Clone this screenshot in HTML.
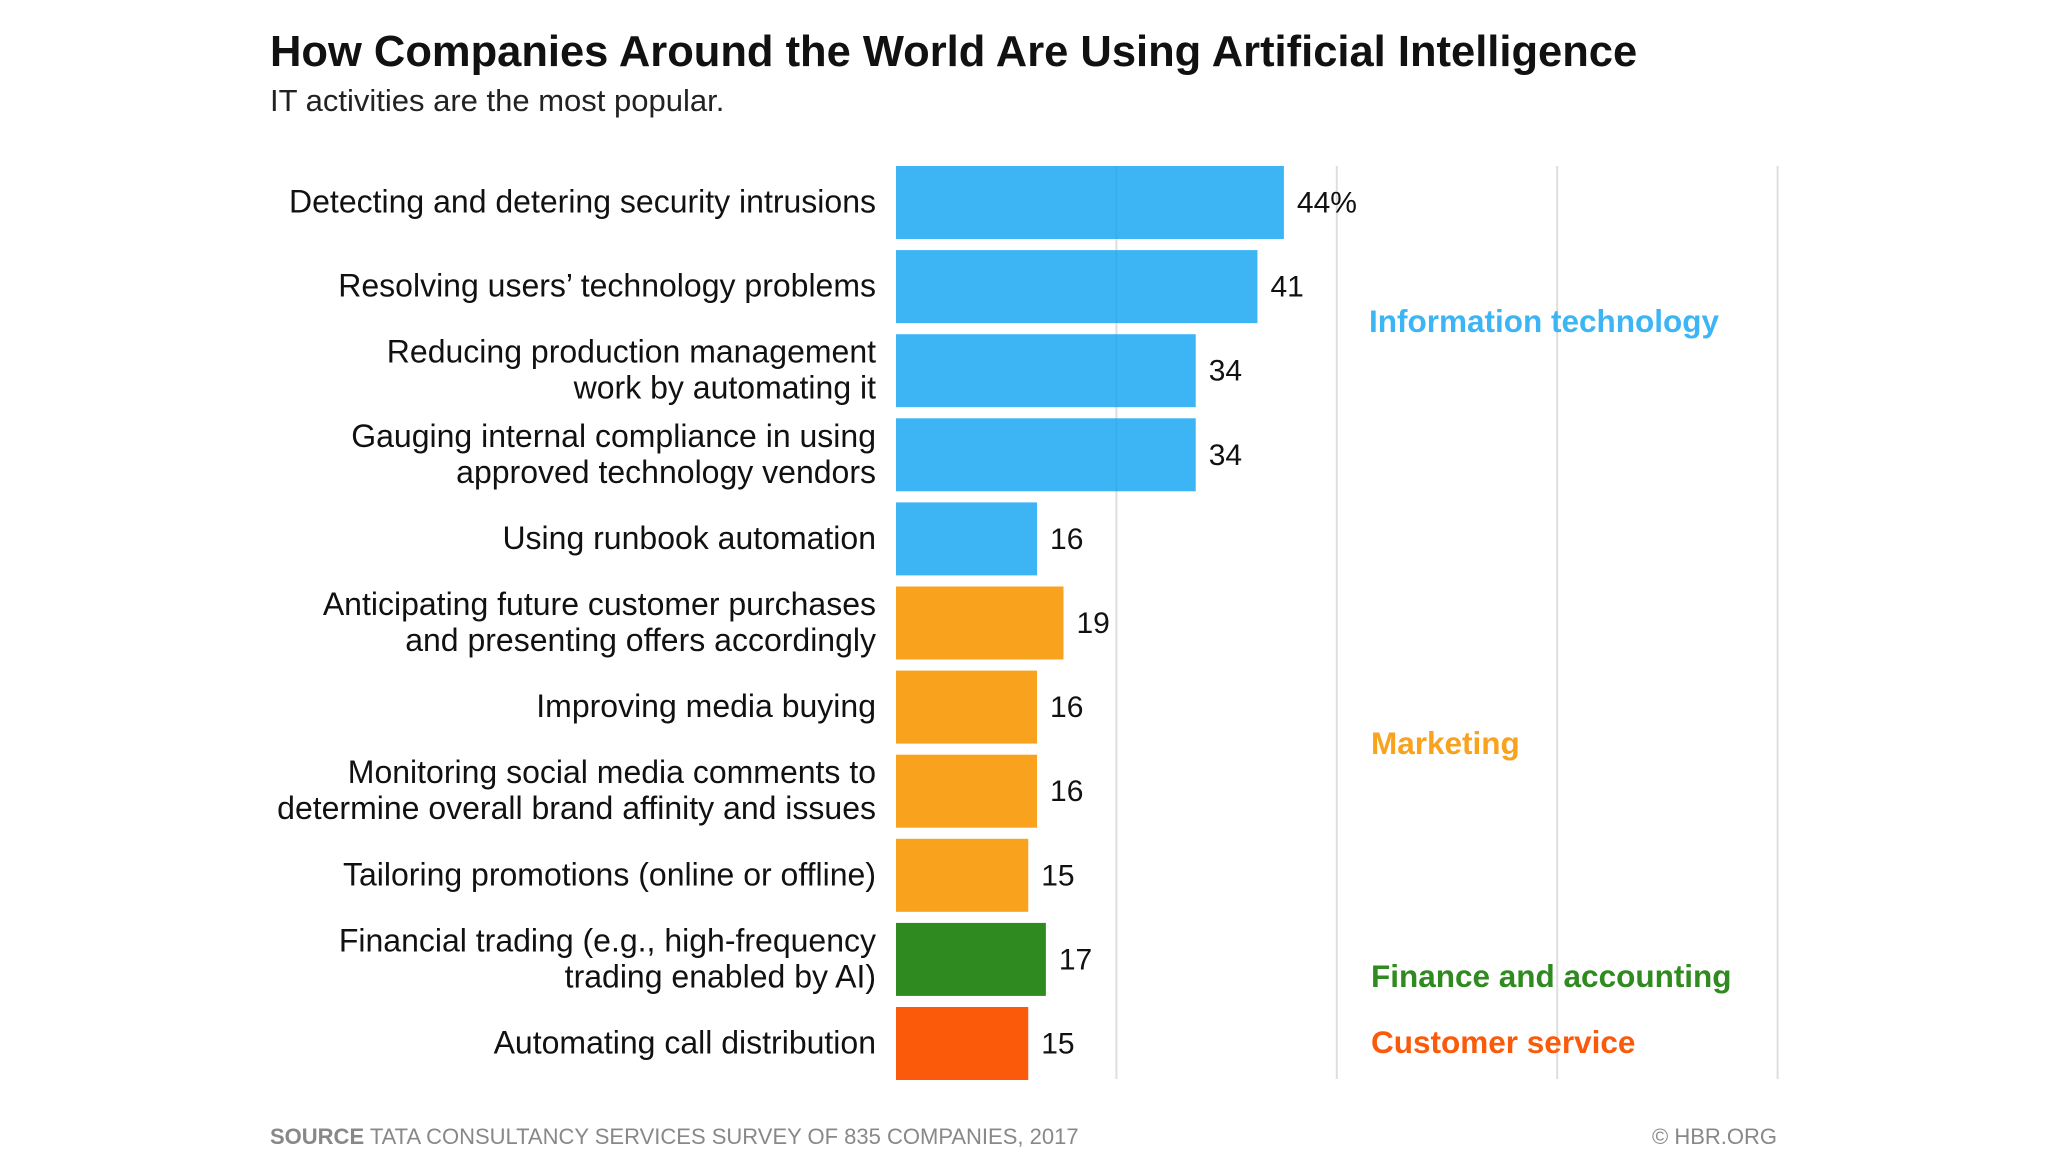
<!DOCTYPE html>
<html><head><meta charset="utf-8"><style>
body{margin:0;background:#fff;}
svg{display:block;font-family:"Liberation Sans",sans-serif;}
</style></head><body>
<svg id="chart" width="2048" height="1152" viewBox="0 0 2048 1152">
<text x="270" y="66" font-size="43.5" font-weight="bold" fill="#111">How Companies Around the World Are Using Artificial Intelligence</text>
<text x="270" y="111" font-size="31" fill="#222">IT activities are the most popular.</text>
<g id="grid"></g><g id="bars"></g><g id="gridtop"></g><g id="labels"></g>
<text x="1369" y="332" font-size="31.5" font-weight="bold" fill="#3db5f5">Information technology</text>
<text x="1371" y="754" font-size="31.5" font-weight="bold" fill="#f9a21e">Marketing</text>
<text x="1371" y="987" font-size="31.5" font-weight="bold" fill="#2f8a1f">Finance and accounting</text>
<text x="1371" y="1053" font-size="31.5" font-weight="bold" fill="#fa5a0a">Customer service</text>
<text x="270" y="1144" font-size="22" fill="#888"><tspan font-weight="bold">SOURCE</tspan> TATA CONSULTANCY SERVICES SURVEY OF 835 COMPANIES, 2017</text>
<text x="1777" y="1144" font-size="22" fill="#888" text-anchor="end">© HBR.ORG</text>
</svg>
<script>
const categories=[["Detecting and detering security intrusions"],["Resolving users’ technology problems"],["Reducing production management","work by automating it"],["Gauging internal compliance in using","approved technology vendors"],["Using runbook automation"],["Anticipating future customer purchases","and presenting offers accordingly"],["Improving media buying"],["Monitoring social media comments to","determine overall brand affinity and issues"],["Tailoring promotions (online or offline)"],["Financial trading (e.g., high-frequency","trading enabled by AI)"],["Automating call distribution"]];
const values=[44,41,34,34,16,19,16,16,15,17,15];
const groups=["it","it","it","it","it","mkt","mkt","mkt","mkt","fin","cs"];
const gridTicks=[25,50,75,100];
const colors={it:"#3db5f5",mkt:"#f9a21e",fin:"#2f8a1f",cs:"#fa5a0a"};
const NS="http://www.w3.org/2000/svg";
const x0=896,xUnit=8.816,top0=166,pitch=84.1,bh=73;
const xs=v=>x0+v*xUnit;
const ys=i=>top0+i*pitch;
function mk(t,a,p){const e=document.createElementNS(NS,t);for(const k in a)e.setAttribute(k,a[k]);document.getElementById(p).appendChild(e);return e;}
gridTicks.forEach(t=>{
 const l=mk("line",{x1:xs(t),x2:xs(t),y1:166,y2:1079,stroke:"#e8e8e8","stroke-width":2},"grid");
 
 
 const l2=mk("line",{x1:xs(t),x2:xs(t),y1:166,y2:1079,stroke:"#000","stroke-opacity":0.04,"stroke-width":2},"gridtop");
 
 
});
values.forEach((v,i)=>{
 const r=mk("rect",{x:x0,y:ys(i),width:xs(v)-x0,height:bh,fill:colors[groups[i]]},"bars");
 
 
 const cy=ys(i)+bh/2;
 const vt=mk("text",{x:xs(v)+13,y:cy+10,"font-size":30,fill:"#111"},"labels");
 vt.textContent=i===0?v+"%":v;
 
 
 const lines=categories[i];
 lines.forEach((s,j)=>{
  const t=mk("text",{x:876,y:cy+10+(j-(lines.length-1)/2)*36,"font-size":32,fill:"#111","text-anchor":"end"},"labels");
  t.textContent=s;
  
  
 });
});
</script>
</body></html>
